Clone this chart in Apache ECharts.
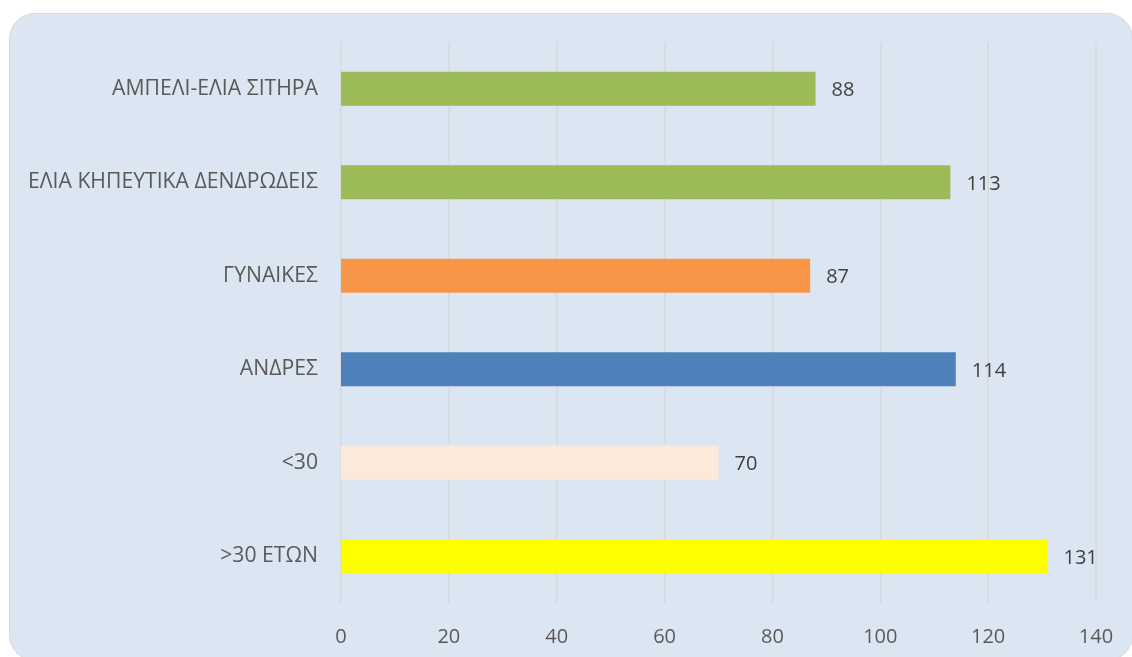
<!DOCTYPE html>
<html>
<head>
<meta charset="utf-8">
<script src="https://cdn.jsdelivr.net/npm/echarts@6/dist/echarts.min.js"></script>
<style>
    html, body { margin: 0; padding: 0; background: #ffffff; overflow: hidden; }
    #card {
        position: absolute; left: 9px; top: 13px; width: 1122px; height: 646px;
        background: #dce6f2; border: 1px solid #d9d9d9; border-radius: 26px;
    }
    #main { position: absolute; left: 0; top: 0; width: 1132px; height: 657px; }
</style>
</head>
<body>
<div id="card"></div>
<div id="main"></div>
<script>
// κατηγορίες από πάνω προς τα κάτω
var categories = ['ΑΜΠΕΛΙ-ΕΛΙΑ ΣΙΤΗΡΑ', 'ΕΛΙΑ ΚΗΠΕΥΤΙΚΑ ΔΕΝΔΡΩΔΕΙΣ', 'ΓΥΝΑΙΚΕΣ', 'ΑΝΔΡΕΣ', '<30', '>30 ΕΤΩΝ'];
var values = [88, 113, 87, 114, 70, 131];
var barColors = ['#9bbb59', '#9bbb59', '#f79646', '#4f81bd', '#fde9d9', '#ffff00'];
var xTicks = [0, 20, 40, 60, 80, 100, 120, 140];

var myChart = echarts.init(document.getElementById('main'));
var seriesData = [];
for (var i = 0; i < values.length; i++) {
    seriesData.push({
        value: values[i],
        itemStyle: { color: barColors[i] }
    });
}

var option = {
    backgroundColor: 'transparent',
    textStyle: { fontFamily: 'Open Sans' },
    grid: { left: 341, right: 36, top: 42, bottom: 54, containLabel: false },
    xAxis: {
        type: 'value',
        min: xTicks[0],
        max: xTicks[xTicks.length - 1],
        interval: 20,
        axisLine: { show: false },
        axisTick: { show: false },
        axisLabel: { color: '#595959', fontSize: 20, margin: 24 },
        splitLine: { show: true, lineStyle: { color: '#d9d9d9', width: 1.5 } }
    },
    yAxis: {
        type: 'category',
        data: categories,
        inverse: true,
        axisLine: { show: false },
        axisTick: { show: false },
        axisLabel: { color: '#595959', fontSize: 21.2, margin: 23 }
    },
    series: [
        {
            type: 'bar',
            data: seriesData,
            barWidth: 34,
            animation: false,
            label: {
                show: true,
                position: 'right',
                distance: 16,
                offset: [0, 2],
                color: '#404040',
                fontSize: 20
            }
        }
    ]
};
myChart.setOption(option);
</script>
</body>
</html>
